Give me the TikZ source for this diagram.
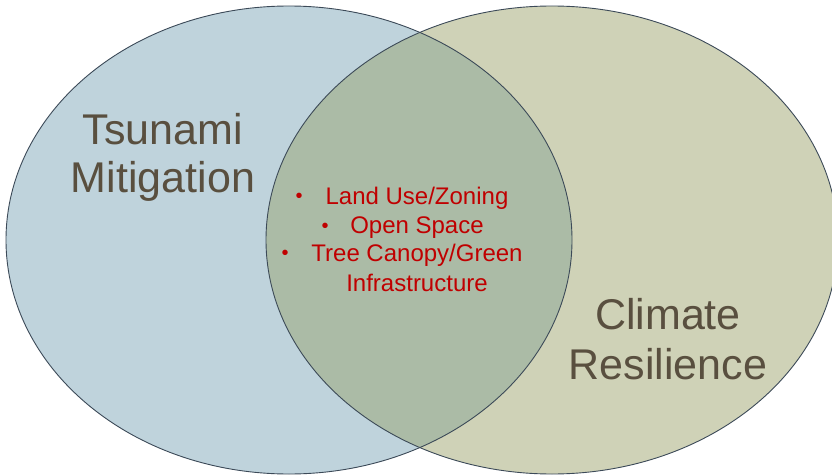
\documentclass[tikz,border=0pt]{standalone}
\usepackage{fontspec}
\setmainfont{Liberation Sans}
\definecolor{leftfill}{HTML}{BFD3DC}
\definecolor{rightfill}{HTML}{CFD2B7}
\definecolor{overlapfill}{HTML}{ABBBA6}
\definecolor{edgecol}{HTML}{3C4A58}
\definecolor{titlecol}{HTML}{594F3F}
\definecolor{itemcol}{HTML}{C00000}
\tikzset{
  title/.style={text=titlecol, font=\fontsize{43}{50}\selectfont, inner sep=0pt, anchor=center},
  item/.style={text=itemcol, font=\fontsize{24}{28}\selectfont, inner sep=0pt, anchor=center},
  bulletmark/.style={text=itemcol, font=\fontsize{20}{24}\selectfont, inner sep=0pt, anchor=center},
  outline/.style={draw=edgecol, line width=0.9pt}
}
\begin{document}
\begin{tikzpicture}[x=1pt,y=-1pt]
\useasboundingbox (0,0) rectangle (832,476);
\begin{scope}
\clip (0,0) rectangle (832,476);
\fill[leftfill] (289,240) ellipse [x radius=283pt, y radius=234pt];
\fill[rightfill] (552,240) ellipse [x radius=286pt, y radius=234pt];
\begin{scope}
\clip (289,240) ellipse [x radius=283pt, y radius=234pt];
\fill[overlapfill] (552,240) ellipse [x radius=286pt, y radius=234pt];
\end{scope}
\draw[outline] (289,240) ellipse [x radius=283pt, y radius=234pt];
\draw[outline] (552,240) ellipse [x radius=286pt, y radius=234pt];
\end{scope}
\node[title] (t1) at (163,129) {Tsunami};
\node[title] (t2) at (163,181) {Mitigation};
\node[title] (c1) at (668,314) {Climate};
\node[title] (c2) at (668,364) {Resilience};
\node[item] (i1) at (417,198) {Land Use/Zoning};
\node[item] (i2) at (417,228) {Open Space};
\node[item] (i3) at (417,255) {Tree Canopy/Green};
\node[item] (i4) at (417,283) {Infrastructure};
\node[bulletmark] (b1) at (299,198) {•};
\node[bulletmark] (b2) at (325,228) {•};
\node[bulletmark] (b3) at (285,255) {•};
\end{tikzpicture}
\end{document}
